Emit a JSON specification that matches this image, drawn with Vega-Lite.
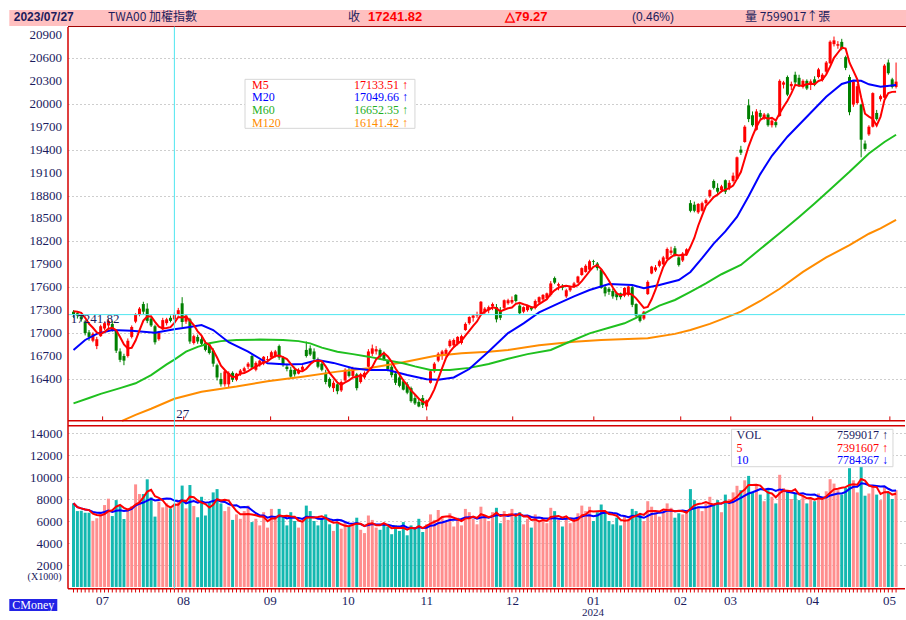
{
"$schema": "https://vega.github.io/schema/vega-lite/v6.json",
"width": 837, "height": 589,
"autosize": "none",
"padding": {"left": 68, "top": 0, "right": 1, "bottom": 31},
"background": "#ffffff",
"data": {"values": [{}]},
"config": {
  "view": {"stroke": null},
  "axis": {"domain": false, "ticks": false, "title": null, "labelFont": "Liberation Serif", "labelFontSize": 13, "labelColor": "#1b1b5e", "gridColor": "#9c9c9c", "gridDash": [1, 3], "gridWidth": 1, "labelOverlap": false, "labelFlush": false}
},
"datasets": {
"d": [
{"i":0,"o":17280,"h":17300,"l":17200,"c":17250,"v":7610,"m5":17285},
{"i":1,"o":17260,"h":17280,"l":17190,"c":17230,"v":6900,"m5":17280},
{"i":2,"o":17220,"h":17240,"l":17150,"c":17180,"v":6930,"m5":17265},
{"i":3,"o":17150,"h":17170,"l":16970,"c":17000,"v":6750,"m5":17200},
{"i":4,"o":17010,"h":17040,"l":16900,"c":16950,"v":6750,"m5":17122},
{"i":5,"o":16900,"h":17010,"l":16880,"c":16990,"v":6020,"m5":17070},
{"i":6,"o":16830,"h":16950,"l":16790,"c":16920,"v":6250,"m5":17008},
{"i":7,"o":16960,"h":17110,"l":16950,"c":17090,"v":6700,"m5":16990},
{"i":8,"o":17060,"h":17150,"l":17040,"c":17130,"v":7450,"m5":17016},
{"i":9,"o":17100,"h":17180,"l":17050,"c":17160,"v":8030,"m5":17058},
{"i":10,"o":17120,"h":17160,"l":17020,"c":17040,"v":6450,"m5":17068},
{"i":11,"o":17030,"h":17050,"l":16740,"c":16770,"v":7900,"m5":17038},
{"i":12,"o":16760,"h":16800,"l":16620,"c":16650,"v":7450,"m5":16950},
{"i":13,"o":16700,"h":16730,"l":16580,"c":16640,"v":6180,"m5":16852},
{"i":14,"o":16700,"h":16930,"l":16680,"c":16900,"v":7150,"m5":16800},
{"i":15,"o":16950,"h":17100,"l":16930,"c":17080,"v":7350,"m5":16808},
{"i":16,"o":17150,"h":17260,"l":17130,"c":17240,"v":9330,"m5":16902},
{"i":17,"o":17240,"h":17340,"l":17220,"c":17320,"v":8450,"m5":17036},
{"i":18,"o":17380,"h":17410,"l":17250,"c":17280,"v":8450,"m5":17164},
{"i":19,"o":17320,"h":17390,"l":17130,"c":17160,"v":9790,"m5":17216},
{"i":20,"o":17190,"h":17220,"l":17080,"c":17100,"v":8150,"m5":17220},
{"i":21,"o":17090,"h":17110,"l":16850,"c":16880,"v":6400,"m5":17148},
{"i":22,"o":16920,"h":17020,"l":16900,"c":17000,"v":7750,"m5":17084},
{"i":23,"o":17050,"h":17200,"l":17040,"c":17170,"v":7240,"m5":17062},
{"i":24,"o":17130,"h":17200,"l":17100,"c":17180,"v":7600,"m5":17066},
{"i":25,"o":17200,"h":17230,"l":17140,"c":17160,"v":7150,"m5":17078},
{"i":26,"o":17180,"h":17270,"l":17170,"c":17241.82,"v":7599,"m5":17133.51},
{"i":27,"o":17250,"h":17330,"l":17230,"c":17300,"v":7820,"m5":17210},
{"i":28,"o":17390,"h":17470,"l":17080,"c":17145,"v":9220,"m5":17205},
{"i":29,"o":17150,"h":17250,"l":17120,"c":17230,"v":7150,"m5":17215},
{"i":30,"o":17180,"h":17200,"l":16860,"c":16890,"v":9270,"m5":17161},
{"i":31,"o":16870,"h":16980,"l":16850,"c":16960,"v":7360,"m5":17105},
{"i":32,"o":16950,"h":16980,"l":16860,"c":16890,"v":6340,"m5":17023},
{"i":33,"o":16920,"h":16960,"l":16840,"c":16860,"v":8200,"m5":16966},
{"i":34,"o":16870,"h":16900,"l":16760,"c":16780,"v":6500,"m5":16876},
{"i":35,"o":16850,"h":16870,"l":16720,"c":16740,"v":7700,"m5":16846},
{"i":36,"o":16770,"h":16800,"l":16560,"c":16600,"v":8600,"m5":16774},
{"i":37,"o":16580,"h":16600,"l":16380,"c":16420,"v":8900,"m5":16680},
{"i":38,"o":16400,"h":16480,"l":16300,"c":16330,"v":7600,"m5":16574},
{"i":39,"o":16330,"h":16520,"l":16300,"c":16500,"v":6900,"m5":16518},
{"i":40,"o":16330,"h":16500,"l":16280,"c":16480,"v":7300,"m5":16466},
{"i":41,"o":16480,"h":16500,"l":16360,"c":16390,"v":6100,"m5":16424},
{"i":42,"o":16390,"h":16480,"l":16370,"c":16470,"v":6600,"m5":16434},
{"i":43,"o":16460,"h":16530,"l":16440,"c":16510,"v":6200,"m5":16470},
{"i":44,"o":16500,"h":16560,"l":16480,"c":16540,"v":6900,"m5":16478},
{"i":45,"o":16560,"h":16620,"l":16530,"c":16600,"v":7400,"m5":16502},
{"i":46,"o":16700,"h":16720,"l":16530,"c":16550,"v":5900,"m5":16534},
{"i":47,"o":16520,"h":16630,"l":16500,"c":16610,"v":6200,"m5":16562},
{"i":48,"o":16580,"h":16650,"l":16560,"c":16640,"v":5600,"m5":16588},
{"i":49,"o":16600,"h":16700,"l":16580,"c":16690,"v":6800,"m5":16618},
{"i":50,"o":16650,"h":16700,"l":16620,"c":16660,"v":5400,"m5":16630},
{"i":51,"o":16680,"h":16770,"l":16660,"c":16750,"v":7100,"m5":16670},
{"i":52,"o":16700,"h":16780,"l":16680,"c":16760,"v":6200,"m5":16700},
{"i":53,"o":16830,"h":16850,"l":16650,"c":16680,"v":7100,"m5":16708},
{"i":54,"o":16680,"h":16700,"l":16560,"c":16580,"v":6400,"m5":16686},
{"i":55,"o":16560,"h":16600,"l":16500,"c":16530,"v":5600,"m5":16660},
{"i":56,"o":16520,"h":16560,"l":16400,"c":16430,"v":6800,"m5":16596},
{"i":57,"o":16520,"h":16560,"l":16430,"c":16460,"v":6000,"m5":16536},
{"i":58,"o":16470,"h":16540,"l":16460,"c":16520,"v":5400,"m5":16504},
{"i":59,"o":16520,"h":16580,"l":16500,"c":16560,"v":5900,"m5":16500},
{"i":60,"o":16780,"h":16890,"l":16680,"c":16700,"v":7400,"m5":16534},
{"i":61,"o":16800,"h":16840,"l":16700,"c":16720,"v":6900,"m5":16592},
{"i":62,"o":16760,"h":16800,"l":16640,"c":16660,"v":6000,"m5":16632},
{"i":63,"o":16650,"h":16680,"l":16540,"c":16560,"v":5600,"m5":16640},
{"i":64,"o":16600,"h":16620,"l":16500,"c":16520,"v":6200,"m5":16632},
{"i":65,"o":16480,"h":16520,"l":16330,"c":16360,"v":6600,"m5":16564},
{"i":66,"o":16400,"h":16420,"l":16280,"c":16300,"v":5700,"m5":16480},
{"i":67,"o":16280,"h":16380,"l":16230,"c":16350,"v":5100,"m5":16418},
{"i":68,"o":16330,"h":16360,"l":16200,"c":16240,"v":5800,"m5":16354},
{"i":69,"o":16250,"h":16380,"l":16230,"c":16360,"v":5300,"m5":16322},
{"i":70,"o":16380,"h":16540,"l":16370,"c":16520,"v":5900,"m5":16354},
{"i":71,"o":16500,"h":16560,"l":16420,"c":16440,"v":5500,"m5":16382},
{"i":72,"o":16440,"h":16560,"l":16420,"c":16540,"v":5800,"m5":16420},
{"i":73,"o":16460,"h":16480,"l":16250,"c":16280,"v":6300,"m5":16428},
{"i":74,"o":16360,"h":16480,"l":16340,"c":16460,"v":5200,"m5":16448},
{"i":75,"o":16420,"h":16500,"l":16400,"c":16480,"v":4900,"m5":16440},
{"i":76,"o":16560,"h":16790,"l":16550,"c":16760,"v":6500,"m5":16504},
{"i":77,"o":16730,"h":16850,"l":16700,"c":16800,"v":6100,"m5":16556},
{"i":78,"o":16760,"h":16830,"l":16720,"c":16790,"v":5400,"m5":16658},
{"i":79,"o":16780,"h":16800,"l":16660,"c":16690,"v":5200,"m5":16704},
{"i":80,"o":16720,"h":16760,"l":16640,"c":16660,"v":5800,"m5":16740},
{"i":81,"o":16640,"h":16650,"l":16500,"c":16530,"v":5500,"m5":16694},
{"i":82,"o":16560,"h":16590,"l":16420,"c":16450,"v":4800,"m5":16624},
{"i":83,"o":16470,"h":16490,"l":16320,"c":16350,"v":5600,"m5":16536},
{"i":84,"o":16420,"h":16450,"l":16290,"c":16310,"v":5100,"m5":16460},
{"i":85,"o":16370,"h":16400,"l":16250,"c":16260,"v":5900,"m5":16380},
{"i":86,"o":16330,"h":16360,"l":16200,"c":16220,"v":4700,"m5":16318},
{"i":87,"o":16280,"h":16300,"l":16090,"c":16110,"v":5600,"m5":16250},
{"i":88,"o":16150,"h":16200,"l":16060,"c":16080,"v":5300,"m5":16196},
{"i":89,"o":16100,"h":16150,"l":16030,"c":16040,"v":6200,"m5":16142},
{"i":90,"o":16150,"h":16190,"l":16020,"c":16060,"v":5000,"m5":16102},
{"i":91,"o":16040,"h":16130,"l":15990,"c":16120,"v":5700,"m5":16082},
{"i":92,"o":16350,"h":16520,"l":16340,"c":16500,"v":6600,"m5":16160},
{"i":93,"o":16500,"h":16620,"l":16480,"c":16600,"v":6100,"m5":16264},
{"i":94,"o":16640,"h":16750,"l":16620,"c":16730,"v":7000,"m5":16402},
{"i":95,"o":16700,"h":16780,"l":16650,"c":16760,"v":6400,"m5":16542},
{"i":96,"o":16720,"h":16800,"l":16690,"c":16780,"v":5900,"m5":16674},
{"i":97,"o":16830,"h":16920,"l":16810,"c":16900,"v":6700,"m5":16754},
{"i":98,"o":16840,"h":16930,"l":16820,"c":16910,"v":5500,"m5":16816},
{"i":99,"o":16860,"h":16960,"l":16840,"c":16950,"v":6300,"m5":16860},
{"i":100,"o":16870,"h":16980,"l":16850,"c":16960,"v":5600,"m5":16900},
{"i":101,"o":17040,"h":17140,"l":17030,"c":17120,"v":7100,"m5":16968},
{"i":102,"o":17130,"h":17220,"l":17110,"c":17210,"v":6800,"m5":17030},
{"i":103,"o":17200,"h":17240,"l":17150,"c":17230,"v":6200,"m5":17094},
{"i":104,"o":17230,"h":17280,"l":17200,"c":17240,"v":5700,"m5":17152},
{"i":105,"o":17240,"h":17420,"l":17230,"c":17410,"v":7300,"m5":17242},
{"i":106,"o":17270,"h":17340,"l":17250,"c":17320,"v":6500,"m5":17282},
{"i":107,"o":17300,"h":17360,"l":17260,"c":17340,"v":6000,"m5":17308},
{"i":108,"o":17350,"h":17400,"l":17300,"c":17380,"v":6800,"m5":17338},
{"i":109,"o":17340,"h":17380,"l":17140,"c":17180,"v":7200,"m5":17326},
{"i":110,"o":17300,"h":17340,"l":17170,"c":17200,"v":5800,"m5":17284},
{"i":111,"o":17330,"h":17440,"l":17310,"c":17430,"v":6900,"m5":17306},
{"i":112,"o":17390,"h":17450,"l":17370,"c":17430,"v":6100,"m5":17324},
{"i":113,"o":17400,"h":17480,"l":17380,"c":17433,"v":7100,"m5":17335},
{"i":114,"o":17500,"h":17510,"l":17400,"c":17420,"v":6400,"m5":17383},
{"i":115,"o":17360,"h":17380,"l":17250,"c":17260,"v":6800,"m5":17395},
{"i":116,"o":17280,"h":17350,"l":17260,"c":17340,"v":5700,"m5":17377},
{"i":117,"o":17300,"h":17370,"l":17280,"c":17360,"v":6200,"m5":17363},
{"i":118,"o":17330,"h":17350,"l":17290,"c":17310,"v":5400,"m5":17338},
{"i":119,"o":17330,"h":17440,"l":17310,"c":17420,"v":6600,"m5":17338},
{"i":120,"o":17400,"h":17480,"l":17380,"c":17470,"v":5900,"m5":17380},
{"i":121,"o":17440,"h":17510,"l":17420,"c":17500,"v":6300,"m5":17412},
{"i":122,"o":17460,"h":17530,"l":17440,"c":17520,"v":5800,"m5":17444},
{"i":123,"o":17500,"h":17680,"l":17480,"c":17650,"v":7200,"m5":17512},
{"i":124,"o":17720,"h":17740,"l":17640,"c":17660,"v":6900,"m5":17560},
{"i":125,"o":17620,"h":17660,"l":17560,"c":17640,"v":6100,"m5":17594},
{"i":126,"o":17600,"h":17640,"l":17560,"c":17590,"v":5500,"m5":17612},
{"i":127,"o":17480,"h":17580,"l":17460,"c":17560,"v":6400,"m5":17620},
{"i":128,"o":17560,"h":17620,"l":17540,"c":17600,"v":5800,"m5":17610},
{"i":129,"o":17610,"h":17670,"l":17590,"c":17650,"v":6200,"m5":17608},
{"i":130,"o":17660,"h":17750,"l":17650,"c":17740,"v":6700,"m5":17628},
{"i":131,"o":17760,"h":17860,"l":17750,"c":17850,"v":7400,"m5":17680},
{"i":132,"o":17800,"h":17900,"l":17790,"c":17880,"v":6900,"m5":17744},
{"i":133,"o":17830,"h":17960,"l":17820,"c":17940,"v":7300,"m5":17812},
{"i":134,"o":17940,"h":17960,"l":17890,"c":17930,"v":6000,"m5":17868},
{"i":135,"o":17910,"h":17930,"l":17820,"c":17850,"v":6800,"m5":17890},
{"i":136,"o":17830,"h":17840,"l":17580,"c":17590,"v":7500,"m5":17838},
{"i":137,"o":17600,"h":17620,"l":17480,"c":17520,"v":6900,"m5":17766},
{"i":138,"o":17580,"h":17600,"l":17500,"c":17540,"v":6000,"m5":17686},
{"i":139,"o":17550,"h":17580,"l":17450,"c":17480,"v":5700,"m5":17596},
{"i":140,"o":17520,"h":17540,"l":17430,"c":17470,"v":6300,"m5":17520},
{"i":141,"o":17520,"h":17530,"l":17440,"c":17470,"v":5600,"m5":17496},
{"i":142,"o":17490,"h":17600,"l":17470,"c":17590,"v":6500,"m5":17510},
{"i":143,"o":17500,"h":17620,"l":17480,"c":17610,"v":6200,"m5":17524},
{"i":144,"o":17600,"h":17620,"l":17340,"c":17370,"v":7100,"m5":17502},
{"i":145,"o":17380,"h":17390,"l":17200,"c":17230,"v":6900,"m5":17454},
{"i":146,"o":17240,"h":17250,"l":17140,"c":17160,"v":6600,"m5":17392},
{"i":147,"o":17190,"h":17290,"l":17170,"c":17280,"v":6000,"m5":17330},
{"i":148,"o":17510,"h":17690,"l":17500,"c":17670,"v":7800,"m5":17342},
{"i":149,"o":17780,"h":17880,"l":17770,"c":17870,"v":7300,"m5":17442},
{"i":150,"o":17820,"h":17890,"l":17800,"c":17860,"v":6800,"m5":17568},
{"i":151,"o":17880,"h":17960,"l":17860,"c":17940,"v":6400,"m5":17724},
{"i":152,"o":17900,"h":18010,"l":17890,"c":17990,"v":6900,"m5":17866},
{"i":153,"o":17970,"h":18120,"l":17950,"c":18100,"v":7600,"m5":17952},
{"i":154,"o":18050,"h":18130,"l":18020,"c":18080,"v":7200,"m5":17994},
{"i":155,"o":18110,"h":18140,"l":18000,"c":18020,"v":6300,"m5":18026},
{"i":156,"o":17990,"h":18000,"l":17870,"c":17890,"v":6700,"m5":18016},
{"i":157,"o":17950,"h":18060,"l":17930,"c":18040,"v":6600,"m5":18026},
{"i":158,"o":18030,"h":18110,"l":18010,"c":18096,"v":7000,"m5":18025},
{"i":159,"o":18700,"h":18740,"l":18580,"c":18600,"v":8900,"m5":18129},
{"i":160,"o":18680,"h":18720,"l":18580,"c":18600,"v":7900,"m5":18245},
{"i":161,"o":18580,"h":18700,"l":18560,"c":18690,"v":7300,"m5":18405},
{"i":162,"o":18600,"h":18720,"l":18590,"c":18700,"v":6900,"m5":18537},
{"i":163,"o":18700,"h":18760,"l":18680,"c":18740,"v":7600,"m5":18666},
{"i":164,"o":18790,"h":18880,"l":18770,"c":18870,"v":8200,"m5":18720},
{"i":165,"o":18990,"h":19010,"l":18880,"c":18900,"v":7500,"m5":18780},
{"i":166,"o":18900,"h":18960,"l":18820,"c":18850,"v":7900,"m5":18812},
{"i":167,"o":18870,"h":18940,"l":18840,"c":18920,"v":6800,"m5":18856},
{"i":168,"o":19000,"h":19010,"l":18820,"c":18850,"v":8400,"m5":18878},
{"i":169,"o":18900,"h":19000,"l":18870,"c":18966,"v":8000,"m5":18897},
{"i":170,"o":18990,"h":19100,"l":18970,"c":19060,"v":8600,"m5":18929},
{"i":171,"o":19020,"h":19310,"l":19010,"c":19300,"v":9200,"m5":19019},
{"i":172,"o":19400,"h":19450,"l":19330,"c":19360,"v":8800,"m5":19107},
{"i":173,"o":19500,"h":19720,"l":19490,"c":19700,"v":9700,"m5":19277},
{"i":174,"o":19980,"h":20060,"l":19760,"c":19800,"v":10100,"m5":19444},
{"i":175,"o":19850,"h":19900,"l":19700,"c":19720,"v":8600,"m5":19576},
{"i":176,"o":19660,"h":19930,"l":19650,"c":19900,"v":9300,"m5":19696},
{"i":177,"o":19880,"h":19920,"l":19800,"c":19830,"v":8400,"m5":19790},
{"i":178,"o":19810,"h":19880,"l":19790,"c":19860,"v":7800,"m5":19822},
{"i":179,"o":19860,"h":19880,"l":19700,"c":19720,"v":8800,"m5":19806},
{"i":180,"o":19720,"h":19800,"l":19690,"c":19780,"v":8200,"m5":19818},
{"i":181,"o":19760,"h":19800,"l":19690,"c":19720,"v":7600,"m5":19782},
{"i":182,"o":19840,"h":20320,"l":19830,"c":20300,"v":10200,"m5":19876},
{"i":183,"o":20250,"h":20300,"l":20200,"c":20280,"v":9000,"m5":19960},
{"i":184,"o":20350,"h":20370,"l":20100,"c":20120,"v":8700,"m5":20040},
{"i":185,"o":20230,"h":20290,"l":20180,"c":20260,"v":8000,"m5":20136},
{"i":186,"o":20380,"h":20420,"l":20250,"c":20280,"v":8500,"m5":20248},
{"i":187,"o":20340,"h":20380,"l":20220,"c":20240,"v":7900,"m5":20236},
{"i":188,"o":20220,"h":20320,"l":20200,"c":20300,"v":8300,"m5":20240},
{"i":189,"o":20300,"h":20320,"l":20180,"c":20200,"v":7600,"m5":20256},
{"i":190,"o":20260,"h":20320,"l":20180,"c":20294,"v":8100,"m5":20263},
{"i":191,"o":20320,"h":20360,"l":20230,"c":20250,"v":7800,"m5":20257},
{"i":192,"o":20350,"h":20470,"l":20330,"c":20450,"v":8500,"m5":20299},
{"i":193,"o":20310,"h":20400,"l":20290,"c":20380,"v":8000,"m5":20315},
{"i":194,"o":20420,"h":20560,"l":20400,"c":20540,"v":8700,"m5":20383},
{"i":195,"o":20530,"h":20830,"l":20520,"c":20812,"v":9800,"m5":20486},
{"i":196,"o":20780,"h":20880,"l":20750,"c":20830,"v":9400,"m5":20602},
{"i":197,"o":20760,"h":20820,"l":20720,"c":20780,"v":8800,"m5":20668},
{"i":198,"o":20810,"h":20850,"l":20700,"c":20720,"v":8400,"m5":20736},
{"i":199,"o":20610,"h":20630,"l":20440,"c":20470,"v":9000,"m5":20722},
{"i":200,"o":20350,"h":20380,"l":19850,"c":19890,"v":10800,"m5":20538},
{"i":201,"o":19990,"h":20300,"l":19960,"c":20290,"v":9700,"m5":20430},
{"i":202,"o":20010,"h":20260,"l":19990,"c":20230,"v":8600,"m5":20320},
{"i":203,"o":19990,"h":20000,"l":19300,"c":19530,"v":11000,"m5":20082},
{"i":204,"o":19480,"h":19520,"l":19380,"c":19410,"v":8300,"m5":19870},
{"i":205,"o":19600,"h":19720,"l":19580,"c":19700,"v":8500,"m5":19832},
{"i":206,"o":19700,"h":20150,"l":19690,"c":20140,"v":9200,"m5":19802},
{"i":207,"o":19880,"h":19920,"l":19780,"c":19800,"v":8400,"m5":19716},
{"i":208,"o":20060,"h":20120,"l":20030,"c":20100,"v":7900,"m5":19830},
{"i":209,"o":20080,"h":20520,"l":20070,"c":20500,"v":9100,"m5":20048},
{"i":210,"o":20540,"h":20580,"l":20380,"c":20400,"v":8600,"m5":20140},
{"i":211,"o":20320,"h":20340,"l":20200,"c":20220,"v":8000,"m5":20156},
{"i":212,"o":20220,"h":20540,"l":20200,"c":20290,"v":8800,"m5":20158}
],
"m20": [
{"i":0,"v":16779},{"i":3,"v":16910},{"i":6,"v":16990},{"i":10,"v":17040},{"i":15,"v":17030},{"i":21,"v":17006},{"i":26,"v":17049.66},{"i":30,"v":17080},{"i":33,"v":17106},{"i":36,"v":17040},{"i":40,"v":16880},{"i":45,"v":16757},{"i":50,"v":16605},{"i":55,"v":16590},{"i":59,"v":16596},{"i":63,"v":16648},{"i":67,"v":16610},{"i":72,"v":16539},{"i":76,"v":16517},{"i":81,"v":16517},{"i":86,"v":16452},{"i":91,"v":16395},{"i":94,"v":16390},{"i":98,"v":16420},{"i":102,"v":16530},{"i":107,"v":16760},{"i":112,"v":17000},{"i":116,"v":17128},{"i":120,"v":17270},{"i":125,"v":17390},{"i":129,"v":17480},{"i":133,"v":17564},{"i":138,"v":17643},{"i":144,"v":17630},{"i":147,"v":17586},{"i":151,"v":17630},{"i":156,"v":17695},{"i":159,"v":17800},{"i":162,"v":17980},{"i":165,"v":18170},{"i":168,"v":18330},{"i":171,"v":18520},{"i":174,"v":18790},{"i":177,"v":19080},{"i":180,"v":19320},{"i":184,"v":19569},{"i":189,"v":19831},{"i":194,"v":20093},{"i":198,"v":20260},{"i":201,"v":20305},{"i":203,"v":20300},{"i":205,"v":20255},{"i":208,"v":20224},{"i":212,"v":20245}
],
"m60": [
{"i":0,"v":16081},{"i":4,"v":16150},{"i":7,"v":16205},{"i":12,"v":16280},{"i":16,"v":16343},{"i":20,"v":16450},{"i":24,"v":16590},{"i":26,"v":16652.35},{"i":29,"v":16757},{"i":32,"v":16820},{"i":35,"v":16866},{"i":38,"v":16895},{"i":42,"v":16910},{"i":48,"v":16915},{"i":54,"v":16910},{"i":58,"v":16895},{"i":61,"v":16866},{"i":64,"v":16810},{"i":68,"v":16757},{"i":72,"v":16725},{"i":76,"v":16692},{"i":80,"v":16650},{"i":85,"v":16605},{"i":88,"v":16565},{"i":92,"v":16517},{"i":97,"v":16517},{"i":102,"v":16545},{"i":107,"v":16596},{"i":112,"v":16665},{"i":117,"v":16725},{"i":123,"v":16779},{"i":128,"v":16890},{"i":133,"v":16997},{"i":138,"v":17070},{"i":142,"v":17128},{"i":145,"v":17200},{"i":148,"v":17281},{"i":151,"v":17360},{"i":155,"v":17433},{"i":159,"v":17540},{"i":163,"v":17651},{"i":167,"v":17770},{"i":172,"v":17891},{"i":177,"v":18100},{"i":183,"v":18348},{"i":187,"v":18520},{"i":191,"v":18697},{"i":195,"v":18880},{"i":200,"v":19110},{"i":205,"v":19351},{"i":209,"v":19500},{"i":212,"v":19595}
],
"m120": [
{"i":12.5,"v":15852},{"i":16,"v":15930},{"i":20,"v":16010},{"i":26,"v":16141.42},{"i":33,"v":16233},{"i":42,"v":16300},{"i":50,"v":16370},{"i":59,"v":16430},{"i":68,"v":16496},{"i":76,"v":16539},{"i":85,"v":16620},{"i":93,"v":16700},{"i":100,"v":16735},{"i":107,"v":16757},{"i":112,"v":16780},{"i":120,"v":16840},{"i":129,"v":16888},{"i":136,"v":16910},{"i":148,"v":16932},{"i":155,"v":16990},{"i":159,"v":17041},{"i":164,"v":17120},{"i":168,"v":17200},{"i":172,"v":17281},{"i":177,"v":17420},{"i":182,"v":17580},{"i":188,"v":17800},{"i":194,"v":17990},{"i":200,"v":18150},{"i":205,"v":18300},{"i":208,"v":18370},{"i":212,"v":18480}
],
"months": [{"i":7.5},{"i":28.4},{"i":50.8},{"i":70.9},{"i":91.1},{"i":113.2},{"i":134.1},{"i":156.5},{"i":169.4},{"i":190.5},{"i":210.4}],
"pticks": [{"p":16400},{"p":16700},{"p":17000},{"p":17300},{"p":17600},{"p":17900},{"p":18200},{"p":18500},{"p":18800},{"p":19100},{"p":19400},{"p":19700},{"p":20000},{"p":20300},{"p":20600},{"p":20900}]
},
"layer": [
{
"layer": [
{"data": {"name": "d"}, "mark": {"type": "rule", "strokeWidth": 1},
 "encoding": {
  "x": {"field": "i", "type": "quantitative", "scale": {"domain": [-1.42, 214.3], "nice": false, "zero": false, "padding": 0},
        "axis": {"orient": "bottom", "grid": false, "labelPadding": 5, "labelOverlap": false, "labelFont": "Liberation Serif", "labelFontSize": 13, "values": [7.35, 28.2, 50.6, 70.7, 90.9, 113.0, 133.9, 156.3, 169.2, 190.3, 210.2],
                 "labelExpr": "datum.value < 18 ? '07' : datum.value < 40 ? '08' : datum.value < 60 ? '09' : datum.value < 80 ? '10' : datum.value < 100 ? '11' : datum.value < 120 ? '12' : datum.value < 145 ? '01' : datum.value < 163 ? '02' : datum.value < 180 ? '03' : datum.value < 200 ? '04' : '05'"}},
  "y": {"field": "l", "type": "quantitative", "scale": {"domain": [15850, 21000], "range": [421, 27.36], "nice": false, "zero": false},
        "axis": {"orient": "left", "grid": true, "labels": false, "values": [16400, 16700, 17000, 17300, 17600, 17900, 18200, 18500, 18800, 19100, 19400, 19700, 20000, 20300, 20600, 20900]}},
  "y2": {"field": "h"},
  "color": {"condition": {"test": "datum.c >= datum.o", "value": "#ff0000"}, "value": "#008000"}
 }},
{"data": {"name": "d"}, "mark": {"type": "bar", "orient": "vertical", "size": 3},
 "encoding": {
  "x": {"field": "i", "type": "quantitative"},
  "y": {"field": "o", "type": "quantitative"},
  "y2": {"field": "c"},
  "color": {"condition": {"test": "datum.c >= datum.o", "value": "#ff0000"}, "value": "#008000"}
 }},
{"data": {"name": "pticks"}, "mark": {"type": "text", "align": "right", "baseline": "middle", "dx": -6, "font": "Liberation Serif", "fontSize": 13, "color": "#1b1b5e"},
 "encoding": {"x": {"datum": -1.42}, "y": {"field": "p", "type": "quantitative"}, "text": {"field": "p", "type": "quantitative", "format": "d"}}},
{"data": {"name": "m120"}, "mark": {"type": "line", "color": "#ff8c00", "strokeWidth": 2},
 "encoding": {"x": {"field": "i", "type": "quantitative"}, "y": {"field": "v", "type": "quantitative"}}},
{"data": {"name": "m60"}, "mark": {"type": "line", "color": "#1fc01f", "strokeWidth": 2},
 "encoding": {"x": {"field": "i", "type": "quantitative"}, "y": {"field": "v", "type": "quantitative"}}},
{"data": {"name": "m20"}, "mark": {"type": "line", "color": "#0000ff", "strokeWidth": 2},
 "encoding": {"x": {"field": "i", "type": "quantitative"}, "y": {"field": "v", "type": "quantitative"}}},
{"data": {"name": "d"}, "mark": {"type": "line", "color": "#ff0000", "strokeWidth": 2},
 "encoding": {"x": {"field": "i", "type": "quantitative"}, "y": {"field": "m5", "type": "quantitative"}}},
{"mark": {"type": "rule", "color": "#4fe6f0", "strokeWidth": 1},
 "encoding": {"x": {"datum": -1.42}, "x2": {"datum": 214.3}, "y": {"datum": 17241.82}}},
{"mark": {"type": "text", "text": "17241.82", "align": "left", "baseline": "middle", "font": "Liberation Serif", "fontSize": 13, "color": "#1b1b5e"},
 "encoding": {"x": {"datum": -0.72}, "y": {"datum": 17181}}},
{"mark": {"type": "text", "text": "27", "align": "left", "baseline": "middle", "font": "Liberation Serif", "fontSize": 13, "color": "#1b1b5e"},
 "encoding": {"x": {"datum": 26.45}, "y": {"datum": 15948}}},
{"mark": {"type": "rect", "fill": "#ffffff", "stroke": "#d6d6d6", "strokeWidth": 1},
 "encoding": {"x": {"datum": 44.2}, "x2": {"datum": 88.0}, "y": {"datum": 20320}, "y2": {"datum": 19679}}},
{"mark": {"type": "text", "text": "M5", "align": "left", "baseline": "middle", "font": "Liberation Serif", "fontSize": 12, "color": "#ff0000"},
 "encoding": {"x": {"datum": 46.0}, "y": {"datum": 20250}}},
{"mark": {"type": "text", "text": "17133.51 ↑", "align": "right", "baseline": "middle", "font": "Liberation Serif", "fontSize": 12, "color": "#ff0000"},
 "encoding": {"x": {"datum": 86.2}, "y": {"datum": 20250}}},
{"mark": {"type": "text", "text": "M20", "align": "left", "baseline": "middle", "font": "Liberation Serif", "fontSize": 12, "color": "#0000ff"},
 "encoding": {"x": {"datum": 46.0}, "y": {"datum": 20085}}},
{"mark": {"type": "text", "text": "17049.66 ↑", "align": "right", "baseline": "middle", "font": "Liberation Serif", "fontSize": 12, "color": "#0000ff"},
 "encoding": {"x": {"datum": 86.2}, "y": {"datum": 20085}}},
{"mark": {"type": "text", "text": "M60", "align": "left", "baseline": "middle", "font": "Liberation Serif", "fontSize": 12, "color": "#1fb01f"},
 "encoding": {"x": {"datum": 46.0}, "y": {"datum": 19918}}},
{"mark": {"type": "text", "text": "16652.35 ↑", "align": "right", "baseline": "middle", "font": "Liberation Serif", "fontSize": 12, "color": "#1fb01f"},
 "encoding": {"x": {"datum": 86.2}, "y": {"datum": 19918}}},
{"mark": {"type": "text", "text": "M120", "align": "left", "baseline": "middle", "font": "Liberation Serif", "fontSize": 12, "color": "#ff8c00"},
 "encoding": {"x": {"datum": 46.0}, "y": {"datum": 19752}}},
{"mark": {"type": "text", "text": "16141.42 ↑", "align": "right", "baseline": "middle", "font": "Liberation Serif", "fontSize": 12, "color": "#ff8c00"},
 "encoding": {"x": {"datum": 86.2}, "y": {"datum": 19752}}},
{"mark": {"type": "rect", "fill": "#ffc0c0"},
 "encoding": {"x": {"datum": -16.55}, "x2": {"datum": 214.56}, "y": {"datum": 21227}, "y2": {"datum": 21018}}},
{"mark": {"type": "rule", "color": "#a00000", "strokeWidth": 1},
 "encoding": {"x": {"datum": -1.42}, "x2": {"datum": 214.56}, "y": {"datum": 21011}}},
{"mark": {"type": "text", "text": "2023/07/27", "align": "left", "baseline": "middle", "font": "Liberation Sans", "fontSize": 12, "fontWeight": "bold", "color": "#1c1c5c"},
 "encoding": {"x": {"datum": -15.41}, "y": {"datum": 21129}}},
{"mark": {"type": "text", "text": "TWA00 加權指數", "align": "left", "baseline": "middle", "font": "Noto Sans CJK TC", "fontSize": 12, "color": "#1c1c5c"},
 "encoding": {"x": {"datum": 8.89}, "y": {"datum": 21129}}},
{"mark": {"type": "text", "text": "收", "align": "left", "baseline": "middle", "font": "Noto Sans CJK TC", "fontSize": 12, "color": "#1c1c5c"},
 "encoding": {"x": {"datum": 70.74}, "y": {"datum": 21129}}},
{"mark": {"type": "text", "text": "17241.82", "align": "left", "baseline": "middle", "font": "Liberation Sans", "fontSize": 13, "fontWeight": "bold", "color": "#ff0000"},
 "encoding": {"x": {"datum": 75.9}, "y": {"datum": 21129}}},
{"mark": {"type": "text", "text": "△79.27", "align": "left", "baseline": "middle", "font": "Liberation Sans", "fontSize": 13, "fontWeight": "bold", "color": "#ff0000"},
 "encoding": {"x": {"datum": 111.21}, "y": {"datum": 21129}}},
{"mark": {"type": "text", "text": "(0.46%)", "align": "left", "baseline": "middle", "font": "Liberation Sans", "fontSize": 12, "color": "#1c1c5c"},
 "encoding": {"x": {"datum": 143.94}, "y": {"datum": 21129}}},
{"mark": {"type": "text", "text": "量 7599017↑張", "align": "left", "baseline": "middle", "font": "Noto Sans CJK TC", "fontSize": 12, "color": "#1c1c5c"},
 "encoding": {"x": {"datum": 173.06}, "y": {"datum": 21129}}},
{"mark": {"type": "rule", "color": "#d40000", "strokeWidth": 1.5},
 "encoding": {"x": {"datum": -1.42}, "x2": {"datum": 214.3}, "y": {"datum": 15854}}},
{"data": {"name": "months"}, "mark": {"type": "rule", "color": "#d40000", "strokeWidth": 1},
 "encoding": {"x": {"field": "i", "type": "quantitative"}, "y": {"datum": 15854}, "y2": {"datum": 15910}}}
]
},
{
"layer": [
{"data": {"name": "d"}, "mark": {"type": "bar", "orient": "vertical", "size": 3},
 "encoding": {
  "x": {"field": "i", "type": "quantitative"},
  "y": {"field": "v", "type": "quantitative", "scale": {"domain": [0, 14500], "range": [587, 427.5], "nice": false, "zero": true},
        "axis": {"orient": "left", "grid": true, "labelPadding": 6, "format": "d", "labelOverlap": false, "labelFont": "Liberation Serif", "labelFontSize": 13, "values": [2000, 4000, 6000, 8000, 10000, 12000, 14000]}},
  "color": {"condition": {"test": "datum.c >= datum.o", "value": "#ff8e8e"}, "value": "#13b8b0"}
 }},
{"data": {"name": "d"},
 "transform": [
  {"window": [{"op": "mean", "field": "v", "as": "v5"}], "frame": [-4, 0], "sort": [{"field": "i"}]},
  {"window": [{"op": "mean", "field": "v", "as": "v10"}], "frame": [-9, 0], "sort": [{"field": "i"}]}
 ],
 "layer": [
  {"mark": {"type": "line", "color": "#0000ff", "strokeWidth": 2},
   "encoding": {"x": {"field": "i", "type": "quantitative"}, "y": {"field": "v10", "type": "quantitative"}}},
  {"mark": {"type": "line", "color": "#ff0000", "strokeWidth": 2},
   "encoding": {"x": {"field": "i", "type": "quantitative"}, "y": {"field": "v5", "type": "quantitative"}}}
 ]},
{"mark": {"type": "rect", "fill": "#ffffff", "stroke": "#d6d6d6", "strokeWidth": 1},
 "encoding": {"x": {"datum": 169.6}, "x2": {"datum": 211.2}, "y": {"datum": 14336}, "y2": {"datum": 10936}}},
{"mark": {"type": "text", "text": "VOL", "align": "left", "baseline": "middle", "font": "Liberation Serif", "fontSize": 12, "color": "#1b1b5e"},
 "encoding": {"x": {"datum": 170.9}, "y": {"datum": 13818}}},
{"mark": {"type": "text", "text": "7599017 ↑", "align": "right", "baseline": "middle", "font": "Liberation Serif", "fontSize": 12, "color": "#1b1b5e"},
 "encoding": {"x": {"datum": 209.9}, "y": {"datum": 13818}}},
{"mark": {"type": "text", "text": "5", "align": "left", "baseline": "middle", "font": "Liberation Serif", "fontSize": 12, "color": "#ff0000"},
 "encoding": {"x": {"datum": 170.9}, "y": {"datum": 12673}}},
{"mark": {"type": "text", "text": "7391607 ↑", "align": "right", "baseline": "middle", "font": "Liberation Serif", "fontSize": 12, "color": "#ff0000"},
 "encoding": {"x": {"datum": 209.9}, "y": {"datum": 12673}}},
{"mark": {"type": "text", "text": "10", "align": "left", "baseline": "middle", "font": "Liberation Serif", "fontSize": 12, "color": "#0000ff"},
 "encoding": {"x": {"datum": 170.9}, "y": {"datum": 11527}}},
{"mark": {"type": "text", "text": "7784367 ↓", "align": "right", "baseline": "middle", "font": "Liberation Serif", "fontSize": 12, "color": "#0000ff"},
 "encoding": {"x": {"datum": 209.9}, "y": {"datum": 11527}}},
{"mark": {"type": "text", "text": "(X1000)", "align": "right", "baseline": "middle", "font": "Liberation Serif", "fontSize": 10, "color": "#1b1b5e"},
 "encoding": {"x": {"datum": -3.1}, "y": {"datum": 900}}},
{"mark": {"type": "rect", "fill": "#2323e6"},
 "encoding": {"x": {"datum": -16.55}, "x2": {"datum": -4.18}, "y": {"datum": -1091}, "y2": {"datum": -2182}}},
{"mark": {"type": "text", "text": "CMoney", "align": "center", "baseline": "middle", "font": "Liberation Serif", "fontSize": 12, "color": "#ffffff"},
 "encoding": {"x": {"datum": -10.37}, "y": {"datum": -1636}}},
{"mark": {"type": "text", "text": "2024", "align": "center", "baseline": "middle", "font": "Liberation Serif", "fontSize": 11, "color": "#1b1b5e"},
 "encoding": {"x": {"datum": 133.9}, "y": {"datum": -2390}}},
{"data": {"name": "d"}, "mark": {"type": "rule", "color": "#dd0000", "strokeWidth": 1},
 "encoding": {"x": {"field": "i", "type": "quantitative"}, "y": {"datum": -170}, "y2": {"datum": -500}}},
{"mark": {"type": "rule", "color": "#d40000", "strokeWidth": 1.5},
 "encoding": {"x": {"datum": -1.42}, "x2": {"datum": 214.3}, "y": {"datum": -155}}},
{"mark": {"type": "rule", "color": "#d40000", "strokeWidth": 1.5},
 "encoding": {"x": {"datum": -1.42}, "x2": {"datum": 214.3}, "y": {"datum": 14664}}},
{"mark": {"type": "rule", "color": "#d40000", "strokeWidth": 1.5},
 "encoding": {"x": {"datum": -1.42}, "y": {"datum": 50909}, "y2": {"datum": -155}}},
{"mark": {"type": "rule", "color": "#4fe6f0", "strokeWidth": 1},
 "encoding": {"x": {"datum": 26}, "y": {"datum": 50950}, "y2": {"datum": -155}}}
]
}
],
"resolve": {"scale": {"y": "independent"}}
}
